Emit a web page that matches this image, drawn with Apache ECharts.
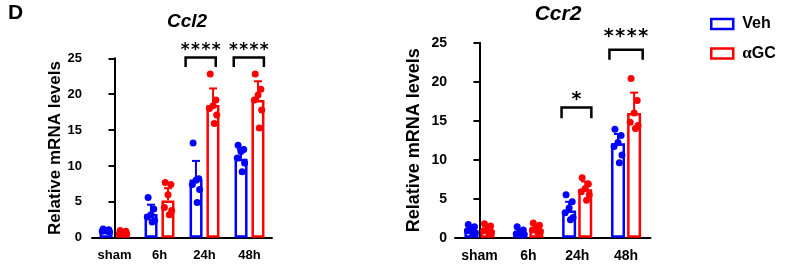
<!DOCTYPE html>
<html>
<head>
<meta charset="utf-8">
<script src="https://cdn.jsdelivr.net/npm/echarts@6/dist/echarts.min.js"></script>
<style>
  html, body { margin: 0; padding: 0; background: #fff; }
  #chart { width: 791px; height: 265px; }
</style>
</head>
<body>
<div id="chart"></div>
<script>
var categories = ["sham", "6h", "24h", "48h"];
var yTicks = [0, 5, 10, 15, 20, 25];

// Ccl2
var ccl2VehMean = [1.0, 3.3, 8.1, 11.0];
var ccl2VehSdTop = [1.1, 4.6, 10.7, 12.3];
var ccl2VehPoints = [
  [1.2, 1.1, 1.0, 0.9, 0.8, 0.9],
  [5.6, 4.0, 3.2, 2.9, 2.4, 2.2],
  [13.2, 8.2, 8.0, 7.4, 6.7, 4.9],
  [12.9, 12.3, 12.0, 11.1, 10.4, 9.2]
];
var ccl2GcMean = [0.7, 5.2, 18.5, 19.2];
var ccl2GcSdTop = [0.9, 6.9, 20.8, 21.8];
var ccl2GcPoints = [
  [1.0, 0.9, 0.7, 0.6, 0.5, 0.6],
  [7.7, 7.4, 6.0, 4.2, 3.8, 3.2],
  [22.8, 19.2, 18.4, 18.0, 17.1, 15.9],
  [22.8, 20.7, 19.9, 19.2, 17.8, 15.3]
];
var ccl2Sig = [
  { cat: 2, from: -0.42, to: 0.25, top: 25.1, leg: 23.8, stars: 4, textY: 27.3 },
  { cat: 3, from: -0.35, to: 0.32, top: 25.1, leg: 23.8, stars: 4, textY: 27.3 }
];

// Ccr2
var ccr2VehMean = [1.0, 0.7, 3.5, 12.1];
var ccr2VehSdTop = [1.5, 1.1, 4.6, 13.3];
var ccr2VehPoints = [
  [1.7, 1.4, 1.1, 0.9, 0.6, 0.5],
  [1.4, 1.0, 0.7, 0.5, 0.4, 0.3],
  [5.5, 4.6, 3.8, 3.2, 2.6, 2.3],
  [13.9, 13.1, 12.2, 11.7, 10.6, 9.6]
];
var ccr2GcMean = [1.0, 1.1, 6.2, 16.0];
var ccr2GcSdTop = [1.5, 1.6, 7.2, 18.6];
var ccr2GcPoints = [
  [1.8, 1.5, 1.2, 0.9, 0.7, 0.6],
  [1.9, 1.6, 1.3, 1.0, 0.8, 0.7],
  [7.7, 6.9, 6.3, 5.9, 5.5, 4.8],
  [20.4, 17.6, 16.0, 14.8, 14.4, 14.0]
];
var ccr2Sig = [
  { cat: 2, from: -0.32, to: 0.29, top: 16.7, leg: 15.3, stars: 1, textY: 18.9 },
  { cat: 3, from: -0.34, to: 0.34, top: 24.1, leg: 22.8, stars: 4, textY: 26.9 }
];

var BLUE = "#0000ff";
var RED = "#ff0000";
var FONT = "Liberation Sans, Arial, sans-serif";
var jitter = [-0.07, 0.07, 0.0, -0.09, 0.09, 0.03];

function pointData(points, shift) {
  var out = [];
  points.forEach(function (grp, i) {
    grp.forEach(function (v, j) {
      out.push([i + shift + jitter[j] * 0.9, v]);
    });
  });
  return out;
}

function errData(mean, top, shift) {
  return mean.map(function (m, i) {
    return [i + shift, m, top[i]];
  });
}

function errSeries(xi, yi, data, color) {
  return {
    type: "custom",
    xAxisIndex: xi,
    yAxisIndex: yi,
    z: 3,
    silent: true,
    encode: { x: 0, y: [1, 2] },
    data: data,
    renderItem: function (params, api) {
      var p0 = api.coord([api.value(0), api.value(1)]);
      var p1 = api.coord([api.value(0), api.value(2)]);
      return {
        type: "group",
        children: [
          { type: "line", shape: { x1: p0[0], y1: p0[1], x2: p1[0], y2: p1[1] }, style: { stroke: color, lineWidth: 2 } },
          { type: "line", shape: { x1: p1[0] - 4, y1: p1[1], x2: p1[0] + 4, y2: p1[1] }, style: { stroke: color, lineWidth: 2 } }
        ]
      };
    }
  };
}

// bracket + stars, each star its own text so the spacing matches
function sigSeries(xi, yi, sig, fontSize, starGap) {
  return {
    type: "custom",
    xAxisIndex: xi,
    yAxisIndex: yi,
    z: 5,
    silent: true,
    clip: false,
    data: sig.map(function (s) { return [s.cat, s.top]; }),
    renderItem: function (params, api) {
      var s = sig[params.dataIndex];
      var a = api.coord([s.cat + s.from, s.leg]);
      var b = api.coord([s.cat + s.from, s.top]);
      var c = api.coord([s.cat + s.to, s.top]);
      var d = api.coord([s.cat + s.to, s.leg]);
      var t = api.coord([s.cat + (s.from + s.to) / 2, s.textY]);
      var kids = [
        { type: "polyline", shape: { points: [a, b, c, d] }, style: { stroke: "#000", lineWidth: 2.5, fill: null } }
      ];
      for (var k = 0; k < s.stars; k++) {
        var x = t[0] + (k - (s.stars - 1) / 2) * starGap;
        kids.push({ type: "text", style: { text: "*", x: x, y: t[1], align: "center", verticalAlign: "top", fill: "#000", font: "bold " + fontSize + "px DejaVu Sans" } });
      }
      return { type: "group", children: kids };
    }
  };
}

function barSeries(name, xi, yi, data, color, width, gap) {
  return {
    name: name,
    type: "bar",
    xAxisIndex: xi,
    yAxisIndex: yi,
    barWidth: width,
    barGap: gap,
    z: 2,
    data: data,
    itemStyle: { color: "#fff", borderColor: color, borderWidth: 2.5 }
  };
}

function scatterSeries(name, xi, yi, data, color) {
  return {
    name: name,
    type: "scatter",
    xAxisIndex: xi,
    yAxisIndex: yi,
    symbolSize: 7,
    z: 4,
    data: data,
    itemStyle: { color: color, opacity: 1 }
  };
}

function catAxis(gi, fontSize, margin) {
  return {
    type: "category",
    gridIndex: gi,
    data: categories,
    axisLine: { lineStyle: { color: "#000", width: 2 } },
    axisTick: { length: 6, lineStyle: { color: "#000", width: 2 }, alignWithLabel: true },
    axisLabel: { color: "#000", fontWeight: "bold", fontSize: fontSize, fontFamily: FONT, margin: margin }
  };
}

function valXAxis(gi) {
  return { type: "value", gridIndex: gi, min: -0.5, max: 3.5, show: false, position: "top" };
}

function valYAxis(gi, fontSize, nameSize, nameGap, margin) {
  return {
    type: "value",
    gridIndex: gi,
    min: yTicks[0],
    max: yTicks[yTicks.length - 1],
    interval: yTicks[1] - yTicks[0],
    name: "Relative mRNA levels",
    nameLocation: "middle",
    nameGap: nameGap,
    nameTextStyle: { color: "#000", fontWeight: "bold", fontSize: nameSize, fontFamily: FONT },
    axisLine: { show: true, lineStyle: { color: "#000", width: 2 } },
    axisTick: { show: true, length: 6, lineStyle: { color: "#000", width: 2 } },
    axisLabel: { color: "#000", fontWeight: "bold", fontSize: fontSize, fontFamily: FONT, margin: margin },
    splitLine: { show: false }
  };
}

var chart = echarts.init(document.getElementById("chart"));

var option = {
  animation: false,
  backgroundColor: "#fff",
  title: [
    { text: "D", left: 3, top: -2, textStyle: { fontSize: 21, fontWeight: "bold", fontFamily: FONT, color: "#000" } },
    { text: "Ccl2", left: 182, top: 7, textAlign: "center", textStyle: { fontSize: 19, fontWeight: "bold", fontStyle: "italic", fontFamily: FONT, color: "#000" } },
    { text: "Ccr2", left: 553, top: -1, textAlign: "center", textStyle: { fontSize: 21, fontWeight: "bold", fontStyle: "italic", fontFamily: FONT, color: "#000" } }
  ],
  legend: {
    orient: "vertical",
    left: 705,
    top: 11,
    itemWidth: 22,
    itemHeight: 10,
    itemGap: 13,
    icon: "rect",
    selectedMode: false,
    textStyle: {
      color: "#000",
      fontSize: 16,
      fontWeight: "bold",
      fontFamily: FONT,
      padding: [0, 0, 0, 4],
      rich: {
        a: { fontFamily: "Liberation Serif, serif", fontSize: 17, fontWeight: "bold", color: "#000" },
        b: { fontFamily: FONT, fontSize: 16, fontWeight: "bold", color: "#000" }
      }
    },
    formatter: function (name) {
      return name === "αGC" ? "{a|α}{b|GC}" : name;
    },
    data: [
      { name: "Veh", itemStyle: { color: "#fff", borderColor: BLUE, borderWidth: 2.5 } },
      { name: "αGC", itemStyle: { color: "#fff", borderColor: RED, borderWidth: 2.5 } }
    ]
  },
  grid: [
    { left: 92, top: 58.3, width: 180, height: 179.4 },
    { left: 455, top: 42.7, width: 195.5, height: 195 }
  ],
  xAxis: [catAxis(0, 13, 11), valXAxis(0), catAxis(1, 14, 11), valXAxis(1)],
  yAxis: [valYAxis(0, 13, 17, 28, 10), valYAxis(1, 14, 18, 32, 8)],
  series: [
    barSeries("Veh", 0, 0, ccl2VehMean, BLUE, 13, "30%"),
    barSeries("αGC", 0, 0, ccl2GcMean, RED, 13, "30%"),
    errSeries(1, 0, errData(ccl2VehMean, ccl2VehSdTop, -0.19), BLUE),
    errSeries(1, 0, errData(ccl2GcMean, ccl2GcSdTop, 0.19), RED),
    scatterSeries("Veh", 1, 0, pointData(ccl2VehPoints, -0.19), BLUE),
    scatterSeries("αGC", 1, 0, pointData(ccl2GcPoints, 0.19), RED),
    sigSeries(1, 0, ccl2Sig, 17, 10.3),

    barSeries("Veh", 2, 1, ccr2VehMean, BLUE, 14, "15%"),
    barSeries("αGC", 2, 1, ccr2GcMean, RED, 14, "15%"),
    errSeries(3, 1, errData(ccr2VehMean, ccr2VehSdTop, -0.165), BLUE),
    errSeries(3, 1, errData(ccr2GcMean, ccr2GcSdTop, 0.165), RED),
    scatterSeries("Veh", 3, 1, pointData(ccr2VehPoints, -0.165), BLUE),
    scatterSeries("αGC", 3, 1, pointData(ccr2GcPoints, 0.165), RED),
    sigSeries(3, 1, ccr2Sig, 19, 11.5)
  ]
};

chart.setOption(option);
</script>
</body>
</html>
